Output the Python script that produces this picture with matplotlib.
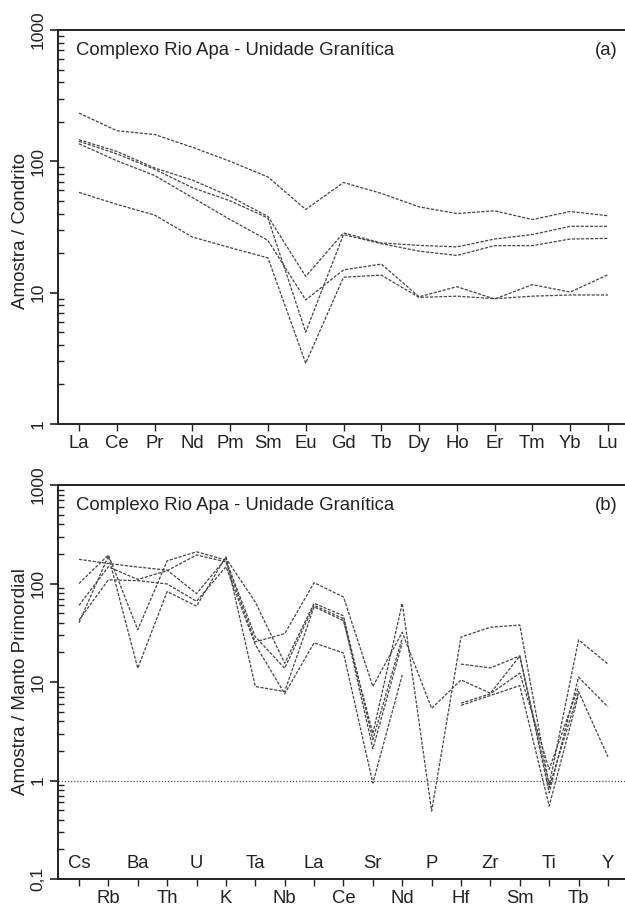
import numpy as np
import matplotlib
matplotlib.use('Agg')
import matplotlib.pyplot as plt
from matplotlib.ticker import FixedLocator, FixedFormatter, LogLocator, NullFormatter

plt.rcParams['font.family'] = ['Liberation Sans', 'DejaVu Sans']

nan = np.nan

# (a) ETR normalizados ao condrito
ree = ['La', 'Ce', 'Pr', 'Nd', 'Pm', 'Sm', 'Eu', 'Gd', 'Tb', 'Dy', 'Ho', 'Er', 'Tm', 'Yb', 'Lu']
ree_1 = [233, 171, 160, 128, 100, 76, 43, 69, 57, 45, 40, 42, 36, 41.5, 38.5]
ree_2 = [146, 119, 89, 72, 54, 38, 13.3, 28.5, 23.9, 22.9, 22.3, 25.6, 27.7, 32, 32]
ree_3 = [142, 114, 87, 63, 50, 37, 5.0, 27.7, 23.6, 20.7, 19.2, 22.8, 22.8, 25.6, 25.9]
ree_4 = [136, 101, 78, 53, 36, 25, 8.8, 14.9, 16.5, 9.3, 11.1, 8.95, 11.5, 10.1, 13.7]
ree_5 = [58, 47, 39, 26.5, 22, 18.4, 2.9, 13.1, 13.6, 9.2, 9.4, 9.0, 9.4, 9.6, 9.6]

# (b) multi-elementos normalizados ao manto primordial
spider = ['Cs', 'Rb', 'Ba', 'Th', 'U', 'K', 'Ta', 'Nb', 'La', 'Ce',
          'Sr', 'Nd', 'P', 'Hf', 'Zr', 'Sm', 'Ti', 'Tb', 'Y']
sp_1 = [100, 195, 34, 170, 210, 173, 28.8, 13.8, 60, 44, 2.1, 25, nan, 5.8, 7.3, 9.2, 0.55, 7.5, nan]
sp_2 = [60, 148, 110, 135, 195, 166, 25.6, 31, 102, 73, 9.0, 32, 5.4, 10.5, 7.7, 18.4, 0.75, 11.2, 5.6]
sp_3 = [40, 190, 13.8, 83, 59, 187, 9.0, 8.0, 58, 42, 3.0, 63, 0.49, 28.6, 36, 37.9, 0.9, 26.8, 15.2]
sp_4 = [176, 160, 147, 137, 79, 180, 65, 15.5, 63, 47, 2.6, 28, nan, 15.2, 13.9, 18.4, 0.85, 8.0, 1.74]
sp_5 = [42.6, 109, 107, 99, 66, 148, 24, 7.6, 25, 19.7, 0.94, 11.8, nan, 6.1, 7.6, 12.3, 1.3, 9.0, nan]

titulo = 'Complexo Rio Apa - Unidade Granítica'
cor_linha = '#444444'
cor_eixo = '#222222'


def estilo_eixo(ax, ymin, ymax, ylabels):
    ax.set_yscale('log')
    ax.set_ylim(ymin, ymax)
    ax.spines['right'].set_visible(False)
    for lado in ['left', 'top', 'bottom']:
        ax.spines[lado].set_linewidth(1.4)
        ax.spines[lado].set_color(cor_eixo)
    majors = [ymin * 10 ** i for i in range(len(ylabels))]
    ax.yaxis.set_major_locator(FixedLocator(majors))
    ax.yaxis.set_major_formatter(FixedFormatter(ylabels))
    ax.yaxis.set_minor_locator(LogLocator(base=10, subs=np.arange(2, 10)))
    ax.yaxis.set_minor_formatter(NullFormatter())
    ax.tick_params(axis='y', which='major', direction='out', length=6, width=1.2,
                   labelsize=12.5, pad=3, colors=cor_eixo)
    ax.tick_params(axis='y', which='minor', direction='in', length=4, width=1.0,
                   colors=cor_eixo)
    for t in ax.get_yticklabels():
        t.set_rotation(90)
        t.set_va('center')
    ax.tick_params(axis='x', which='major', direction='out', length=5, width=1.0,
                   labelsize=13.3, pad=3, colors=cor_eixo)
    ax.text(0.032, 0.9365, titulo, transform=ax.transAxes, fontsize=13.3,
            color=cor_eixo, ha='left', va='baseline')


fig = plt.figure(figsize=(6.25, 9.09), dpi=100)

# painel (a)
ax1 = fig.add_axes([0.0928, 0.5336, 0.9072, 0.4334])
x1 = np.arange(len(ree))
for serie in [ree_1, ree_2, ree_3, ree_4, ree_5]:
    ax1.plot(x1, serie, color=cor_linha, lw=0.9, dashes=(2.5, 1.2))
ax1.set_xlim(-0.556, 14.45)
ax1.set_xticks(x1)
ax1.set_xticklabels(ree)
estilo_eixo(ax1, 1, 1000, ['1', '10', '100', '1000'])
ax1.text(0.9877, 0.9365, '(a)', transform=ax1.transAxes, fontsize=13.3,
         color=cor_eixo, ha='right', va='baseline')
ax1.set_ylabel('Amostra / Condrito', fontsize=13.5, color=cor_eixo)
ax1.yaxis.set_label_coords(-0.052, 0.49)

# painel (b)
ax2 = fig.add_axes([0.0928, 0.0330, 0.9072, 0.4334])
x2 = np.arange(len(spider))
ax2.axhline(1, color='#555555', lw=0.9, ls=(0, (1, 1.5)))
for serie in [sp_1, sp_2, sp_3, sp_4, sp_5]:
    ax2.plot(x2, serie, color=cor_linha, lw=0.9, dashes=(2.5, 1.2))
ax2.set_xlim(-0.714, 18.58)
ax2.set_xticks(x2)
ax2.set_xticklabels([s if i % 2 == 1 else '' for i, s in enumerate(spider)])
estilo_eixo(ax2, 0.1, 1000, ['0,1', '1', '10', '100', '1000'])
for i, s in enumerate(spider):
    if i % 2 == 0:
        ax2.text(i, 0.028, s, transform=ax2.get_xaxis_transform(), fontsize=13.3,
                 color=cor_eixo, ha='center', va='baseline')
ax2.text(0.9877, 0.9365, '(b)', transform=ax2.transAxes, fontsize=13.3,
         color=cor_eixo, ha='right', va='baseline')
ax2.set_ylabel('Amostra / Manto Primordial', fontsize=13.5, color=cor_eixo)
ax2.yaxis.set_label_coords(-0.052, 0.5)

fig.savefig('out.png', dpi=100)
